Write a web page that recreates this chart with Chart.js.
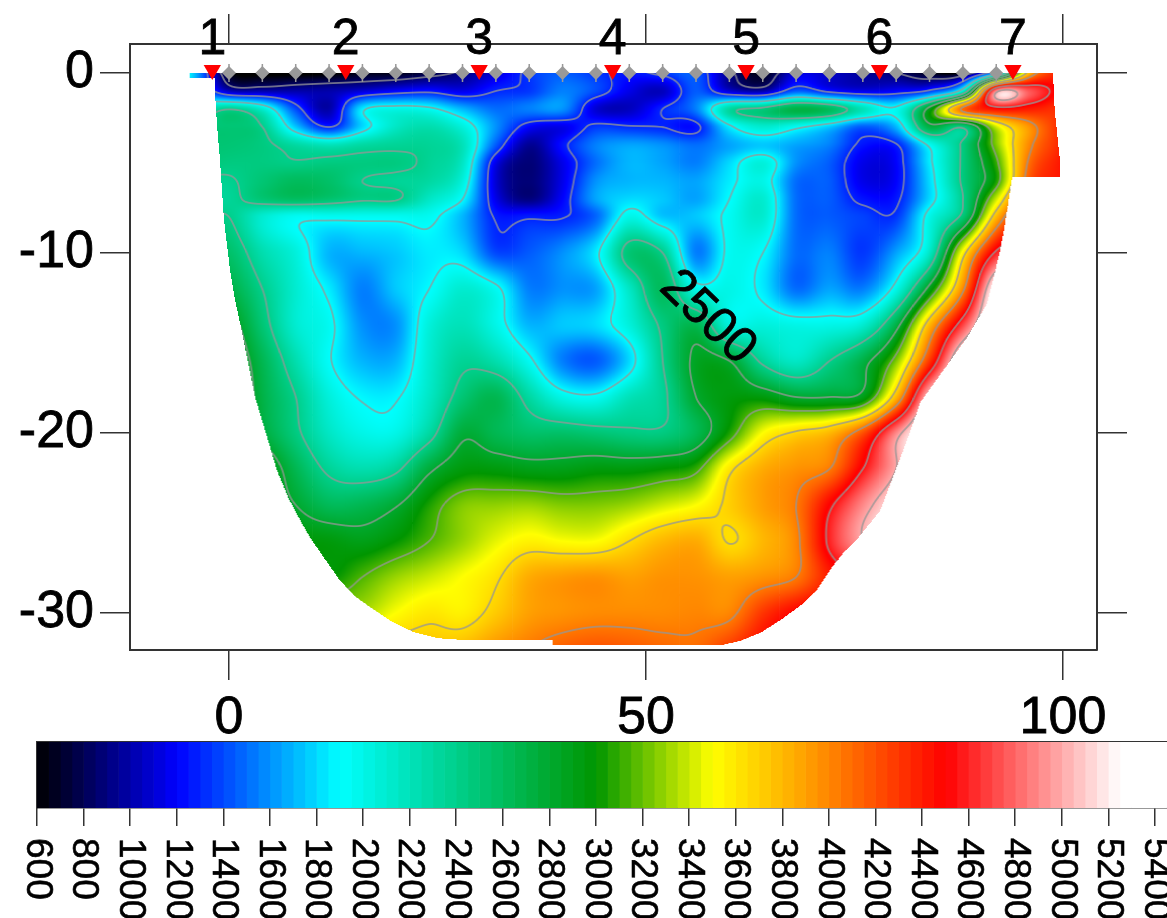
<!DOCTYPE html>
<html>
<head>
<meta charset="UTF-8">
<title>Velocity section</title>
<script src="https://cdn.jsdelivr.net/npm/chart.js"></script>
<style>
  html, body { margin: 0; background: #fff; overflow: hidden; width: 1167px; height: 918px; }
  canvas { position: absolute; left: 0; }
  #section { top: 0; }
  #colorbar { top: 740px; }
</style>
</head>
<body>
<canvas id="section" width="1167" height="742"></canvas>
<canvas id="colorbar" width="1167" height="178"></canvas>
<script>
// grid: distance (m), depth (m), velocity (m/s) per row
const distances = [-4,0,4,8,12,16,20,24,28,32,36,40,44,48,52,56,60,64,68,72,76,80,84,88,92,96,100];
const depths = [0,-1,-2,-3,-4,-5,-6,-7,-8,-10,-12,-14,-16,-18,-20,-22,-24,-26,-28,-30,-32];

const row00 = [1700,650,550,550,580,650,650,750,900,1100,1350,1450,1350,1250,1350,1450,900,650,1100,1050,950,850,650,650,1700,3800,4500];
const row01 = [1700,1050,1000,1000,1000,1100,1200,1250,1150,1300,1350,1550,1400,1150,1050,1450,1100,1000,1450,1250,1150,1200,1350,2100,4900,4750,4400];
const row02 = [2100,2380,2100,1400,1000,1850,2000,1950,1700,1500,1550,1600,1100,1050,1300,1550,2300,2450,2700,2600,2200,1950,2900,4100,4450,4400,4300];
const row03 = [2450,2500,2400,1750,1300,1800,2150,2250,2050,1600,1200,1150,1350,1320,1300,1250,1850,2100,1950,1750,1450,1700,2700,2450,3400,3950,4400];
const row04 = [2500,2500,2450,2300,2200,2300,2350,2350,2200,1450,950,1250,1550,1650,1600,1500,1650,1750,1650,1550,1250,1280,1950,2450,3250,4000,4400];
const row05 = [2500,2450,2450,2420,2450,2450,2450,2350,2150,1150,880,1150,1500,1700,1650,1550,1800,2050,1600,1450,1150,1200,1850,2450,3100,4100,4450];
const row06 = [2380,2380,2500,2600,2550,2400,2350,2300,2050,1100,880,1150,1600,1700,1700,1650,1850,2000,1500,1450,1150,1200,1800,2450,3050,4200,4450];
const row07 = [2350,2350,2500,2580,2520,2430,2420,2150,1900,1150,900,1200,1650,1800,1750,1650,1900,2100,1500,1450,1250,1260,1800,2400,3400,4400,4500];
const row08 = [2400,2400,2100,1950,1950,1950,1950,1950,1700,1280,1280,1290,1480,2000,1750,1750,1950,2100,1500,1450,1380,1350,2000,2500,3800,4600,4500];
const row10 = [2550,2550,2250,2050,1700,1700,1750,1850,1800,1400,1450,1600,1850,2500,2400,1550,1950,1900,1500,1550,1350,1650,2150,3550,4600,4800,4800];
const row12 = [2700,2700,2400,2100,1850,1550,1750,1900,2100,1950,1550,1600,1650,2150,2600,2000,2000,1850,1500,1650,1550,2000,2900,4000,5300,5300,5300];
const row14 = [2900,2900,2500,2100,1950,1600,1600,2050,2200,2000,1700,1750,1800,2050,2450,2650,2050,2050,2000,2000,2100,2700,3800,4700,5400,5400,5400];
const row16 = [3000,3000,2650,2250,1920,1700,1700,2100,2350,2250,1950,1550,1450,1800,2400,2850,2800,2350,2150,2400,2700,3250,4300,5300,5400,5400,5400];
const row18 = [3100,3100,2700,2400,2050,1880,1880,2150,2500,2650,2300,2000,1950,2200,2350,2800,2950,2950,2800,2800,2900,3800,5100,5400,5400,5400,5400];
const row20 = [3100,3100,2750,2450,2150,2000,2000,2300,2750,2650,2550,2550,2500,2450,2450,2650,3050,3500,3680,3800,4200,4900,5400,5400,5400,5400,5400];
const row22 = [3200,3200,3000,2650,2350,2250,2350,2750,2950,2950,2900,2900,2950,2950,3000,3100,3600,3850,3950,4050,4550,5000,5400,5400,5400,5400,5400];
const row24 = [3300,3300,3000,2800,2620,2650,2780,3050,3250,3280,3300,3250,3250,3300,3400,3500,3700,3900,4050,4500,4900,5200,5400,5400,5400,5400,5400];
const row26 = [3300,3300,3200,3000,2950,2900,3000,3150,3300,3450,3550,3500,3500,3650,3800,3850,3640,3800,4000,4600,5000,5300,5400,5400,5400,5400,5400];
const row28 = [3400,3400,3300,3100,3000,3150,3300,3400,3500,3620,3850,3920,3950,3900,3950,3950,3900,3950,4050,4400,4600,4800,5000,5000,5000,5000,5000];
const row30 = [3500,3500,3500,3400,3350,3350,3500,3600,3560,3720,3900,3950,3980,3980,3980,4000,4000,4300,4500,4600,4700,5000,5000,5000,5000,5000,5000];
const row32 = [3700,3700,3700,3700,3700,3700,3750,3750,3800,3950,4050,4150,4200,4170,4120,4100,4300,4500,4600,4600,4600,4600,4600,4600,4600,4600,4600];
const velocity = [row00,row01,row02,row03,row04,row05,row06,row07,row08,row10,row12,row14,row16,row18,row20,row22,row24,row26,row28,row30,row32];

// outline of the covered part of the section
const outlineX = [-4.7,-4.7,-1.7,-1.68,-1.44,-1.08,-0.6,0.12,0.72,1.56,3.12,4.68,5.7,7.1,8.6,9.7,11.5,13.3,15.2,17.3,19.6,22.1,25,28.1,38.8,38.8,58.9,61.3,63.7,66.1,68.5,70.5,72.4,73.6,75.3,78.1,81.3,82.9,84.9,88.5,90.9,91.6,92.4,93,93.9,99.6,99.6,99,98.8];
const outlineY = [0,-0.3,-0.3,-1.1,-2.9,-4.83,-8.17,-10.94,-12.6,-14.4,-18,-20.4,-22,-23.6,-24.9,-25.8,-27,-28.2,-29.1,-29.8,-30.5,-31.05,-31.4,-31.5,-31.5,-31.8,-31.8,-31.55,-31.1,-30.4,-29.6,-28.7,-27.4,-26.7,-25.9,-24.3,-20.4,-18.3,-17,-14.7,-12.8,-11.5,-10,-8.5,-5.8,-5.8,-4.7,-2.05,0];

const contourLevels = [850,1300,1900,2400,2800,3150,3650,4050,4550,5000];

// geophones and shots
const geophoneX = [0,4,8,12,16,20,24,28,32,36,40,44,48,52,56,60,64,68,72,76,80,84,88,92];
const shotX = [-2,14,30,46,62,78,94];
const shotNames = ['1','2','3','4','5','6','7'];

const xTicks = [0,50,100];
const yTicks = [-30,-20,-10,0];
const barTicks = [600,800,1000,1200,1400,1600,1800,2000,2200,2400,2600,2800,3000,3200,3400,3600,3800,4000,4200,4400,4600,4800,5000,5200,5400];

const paletteValues = [600,1200,1900,3000,3500,3900,4500,5250];
const paletteColors = [[0,0,0],[0,0,255],[0,255,255],[0,150,0],[255,255,0],[255,160,0],[255,0,0],[255,255,255]];

const FONT = '"Liberation Sans", Arial, sans-serif';
const LINE = '#333333';

function colorAt(v) {
    if (v <= paletteValues[0]) return paletteColors[0];
    for (let i = 1; i < paletteValues.length; i++) {
        if (v <= paletteValues[i]) {
            const t = (v - paletteValues[i-1]) / (paletteValues[i] - paletteValues[i-1]);
            return paletteColors[i].map((c, k) => paletteColors[i-1][k] + (c - paletteColors[i-1][k]) * t);
        }
    }
    return paletteColors[paletteColors.length - 1];
}

// smooth shading between the read values, like the contouring package does
function slope(xs, vs, i) {
    const a = Math.max(i - 1, 0), b = Math.min(i + 1, xs.length - 1);
    return (vs[b] - vs[a]) / (xs[b] - xs[a]);
}

function hermite(xs, vs, i, x) {
    const h = xs[i+1] - xs[i], t = (x - xs[i]) / h;
    const t2 = t * t, t3 = t2 * t;
    return (2*t3 - 3*t2 + 1) * vs[i] + (t3 - 2*t2 + t) * h * slope(xs, vs, i)
        + (-2*t3 + 3*t2) * vs[i+1] + (t3 - t2) * h * slope(xs, vs, i+1);
}

function cellIndex(xs, x) {
    let i = 0;
    while (i < xs.length - 2 && x > xs[i+1]) i++;
    return i;
}

const depthAxis = depths.map(d => -d);
const colBuffer = depths.map(() => 0);
function velocityAt(x, y) {
    const cx = cellIndex(distances, x), cy = cellIndex(depthAxis, -y);
    for (let j = Math.max(cy - 1, 0); j <= Math.min(cy + 2, depths.length - 1); j++) {
        colBuffer[j] = hermite(distances, velocity[j], cx, x);
    }
    return hermite(depthAxis, colBuffer, cy, -y);
}

function insideOutline(x, y) {
    let inside = false;
    for (let i = 0, j = outlineX.length - 1; i < outlineX.length; j = i++) {
        if ((outlineY[i] > y) !== (outlineY[j] > y)
            && x < (outlineX[j] - outlineX[i]) * (y - outlineY[i]) / (outlineY[j] - outlineY[i]) + outlineX[i]) {
            inside = !inside;
        }
    }
    return inside;
}

// every grid node is one scatter point; its point style is the little image of its own cell
const cellImages = {};
function cellImage(node, chart) {
    if (cellImages[node.key]) return cellImages[node.key];
    const sx = chart.scales.x, sy = chart.scales.y;
    const ux = sx.getPixelForValue(1) - sx.getPixelForValue(0);
    const uy = sy.getPixelForValue(0) - sy.getPixelForValue(1);
    // the library asks for the options once before the layout is done
    if (!(ux > 0) || !(uy > 0)) return 'circle';
    const i = node.col, j = node.row;
    const gapL = (i > 0 ? distances[i] - distances[i-1] : 4) / 2 * ux + 0.75;
    const gapR = (i < distances.length - 1 ? distances[i+1] - distances[i] : 4) / 2 * ux + 0.75;
    const gapU = (j > 0 ? depths[j-1] - depths[j] : 2) / 2 * uy + 0.75;
    const gapD = (j < depths.length - 1 ? depths[j] - depths[j+1] : 2) / 2 * uy + 0.75;
    const w = 2 * Math.ceil(Math.max(gapL, gapR)), h = 2 * Math.ceil(Math.max(gapU, gapD));
    const c = document.createElement('canvas');
    c.width = w; c.height = h;
    const ctx = c.getContext('2d');
    const img = ctx.createImageData(w, h);
    for (let py = 0; py < h; py++) {
        const oy = py + 0.5 - h / 2;
        if (oy < -gapU || oy > gapD) continue;
        for (let px = 0; px < w; px++) {
            const ox = px + 0.5 - w / 2;
            if (ox < -gapL || ox > gapR) continue;
            const x = node.x + ox / ux, y = node.y - oy / uy;
            if (!insideOutline(x, y)) continue;
            const v = velocityAt(x, y);
            const gx = (velocityAt(x + 1 / ux, y) - velocityAt(x - 1 / ux, y)) / 2;
            const gy = (velocityAt(x, y + 1 / uy) - velocityAt(x, y - 1 / uy)) / 2;
            const g = Math.hypot(gx, gy) || 1e-6;
            let rgb = colorAt(v);
            let a = 0;
            for (const lv of contourLevels) a = Math.max(a, 1.4 - Math.abs(v - lv) / g);
            a = Math.min(Math.max(a, 0), 1) * 0.75;
            const k = (py * w + px) * 4;
            img.data[k] = rgb[0] + (150 - rgb[0]) * a;
            img.data[k+1] = rgb[1] + (150 - rgb[1]) * a;
            img.data[k+2] = rgb[2] + (150 - rgb[2]) * a;
            img.data[k+3] = 255;
        }
    }
    ctx.putImageData(img, 0, 0);
    cellImages[node.key] = c;
    return c;
}

const nodes = [];
depths.forEach((y, row) => distances.forEach((x, col) => {
    nodes.push({ x: x, y: y, v: velocity[row][col], col: col, row: row, key: row + '_' + col });
}));

function fixedTicks(list) {
    return function (scale) { scale.ticks = list.map(v => ({ value: v })); };
}

function axisGrid() {
    return { display: true, drawOnChartArea: false, drawTicks: true, tickLength: 30, color: LINE, lineWidth: 1.5 };
}

function heavyText(ctx, text, x, y) {
    ctx.fillText(text, x, y);
    ctx.strokeText(text, x, y);
}

const textPlugin = {
    id: 'sectionText',
    afterDraw(chart) {
        const ctx = chart.ctx, sx = chart.scales.x, sy = chart.scales.y;
        ctx.save();
        ctx.fillStyle = '#000';
        ctx.strokeStyle = '#000';
        ctx.lineWidth = 0.8;
        ctx.font = '50px ' + FONT;
        ctx.textAlign = 'center';
        ctx.textBaseline = 'alphabetic';
        shotX.forEach((x, i) => heavyText(ctx, shotNames[i], sx.getPixelForValue(x), 54));
        ctx.translate(sx.getPixelForValue(57.4), sy.getPixelForValue(-13.6));
        ctx.rotate(44 * Math.PI / 180);
        ctx.textBaseline = 'middle';
        heavyText(ctx, '2500', 0, 0);
        ctx.restore();
    }
};

new Chart(document.getElementById('section'), {
    type: 'scatter',
    data: {
        datasets: [
            { label: 'shots', order: 1, data: shotX.map(x => ({ x: x, y: 0.17 })), pointStyle: 'triangle', rotation: 180, pointRadius: 10, pointBackgroundColor: '#ff0000', pointBorderWidth: 0 },
            { label: 'geophones', order: 2, data: geophoneX.map(x => ({ x: x, y: 0 })), pointStyle: 'rectRot', pointRadius: 7, pointBackgroundColor: '#999999', pointBorderWidth: 0 },
            { label: 'geophone pins', order: 3, data: geophoneX.map(x => ({ x: x, y: 0 })), pointStyle: 'line', rotation: 90, pointRadius: 9, pointBorderColor: '#999999', pointBorderWidth: 1.5 },
            { label: 'velocity', order: 4, data: nodes, pointRadius: 1, pointStyle: ctx => cellImage(ctx.raw, ctx.chart) }
        ]
    },
    options: {
        responsive: false,
        animation: false,
        events: [],
        plugins: { legend: { display: false }, tooltip: { enabled: false } },
        scales: {
            x: {
                type: 'linear', position: 'bottom', min: -11.87, max: 104.08,
                afterBuildTicks: fixedTicks(xTicks), afterFit: s => { s.height = 92; },
                grid: axisGrid(), border: { display: true, color: LINE, width: 2 },
                ticks: { color: '#000', font: { family: FONT, size: 52 }, padding: 7, maxRotation: 0, minRotation: 0, autoSkip: false, textStrokeColor: '#000', textStrokeWidth: 0.8, callback: v => String(v) }
            },
            xTop: {
                type: 'linear', position: 'top', display: true, min: -11.87, max: 104.08,
                afterBuildTicks: fixedTicks(xTicks), afterFit: s => { s.height = 44; },
                grid: axisGrid(), border: { display: true, color: LINE, width: 2 },
                ticks: { display: false }
            },
            y: {
                type: 'linear', position: 'left', min: -32.056, max: 1.611,
                afterBuildTicks: fixedTicks(yTicks), afterFit: s => { s.width = 130; },
                grid: axisGrid(), border: { display: true, color: LINE, width: 2 },
                ticks: { color: '#000', font: { family: FONT, size: 52 }, padding: 6, autoSkip: false, textStrokeColor: '#000', textStrokeWidth: 0.8, callback: v => String(v) }
            },
            yRight: {
                type: 'linear', position: 'right', display: true, min: -32.056, max: 1.611,
                afterBuildTicks: fixedTicks(yTicks), afterFit: s => { s.width = 70; },
                grid: axisGrid(), border: { display: true, color: LINE, width: 2 },
                ticks: { display: false }
            }
        }
    },
    plugins: [textPlugin]
});

// colour bar: one floating bar per 50 m/s step
const barStarts = [];
for (let v = 600; v < 5500; v += 50) barStarts.push(v);

const barTextPlugin = {
    id: 'barText',
    afterDraw(chart) {
        const ctx = chart.ctx, sx = chart.scales.x;
        ctx.save();
        ctx.fillStyle = '#000';
        ctx.strokeStyle = '#000';
        ctx.lineWidth = 0.6;
        ctx.font = '37px ' + FONT;
        ctx.textAlign = 'left';
        ctx.textBaseline = 'middle';
        barTicks.forEach(v => {
            ctx.save();
            ctx.translate(sx.getPixelForValue(v), chart.chartArea.bottom + 30);
            ctx.rotate(Math.PI / 2);
            heavyText(ctx, String(v), 0, 0);
            ctx.restore();
        });
        ctx.restore();
    }
};

new Chart(document.getElementById('colorbar'), {
    type: 'bar',
    data: {
        labels: ['v'],
        datasets: barStarts.map(v => ({
            data: [[v, v + 50]],
            backgroundColor: 'rgb(' + colorAt(v + 25).map(Math.round).join(',') + ')',
            borderWidth: 0, barPercentage: 1, categoryPercentage: 1, grouped: false
        }))
    },
    options: {
        indexAxis: 'y',
        responsive: false,
        animation: false,
        events: [],
        plugins: { legend: { display: false }, tooltip: { enabled: false } },
        scales: {
            x: {
                type: 'linear', position: 'bottom', min: 600, max: 5452,
                afterBuildTicks: fixedTicks(barTicks), afterFit: s => { s.height = 110; },
                grid: { display: true, drawOnChartArea: false, tickLength: 18, color: LINE, lineWidth: 1.5 },
                border: { display: true, color: LINE, width: 1.5 },
                ticks: { display: false }
            },
            xTop: {
                type: 'linear', position: 'top', display: true, min: 600, max: 5452,
                afterFit: s => { s.height = 2; },
                grid: { display: false }, border: { display: true, color: LINE, width: 1.5 },
                ticks: { display: false }
            },
            y: {
                position: 'left',
                afterFit: s => { s.width = 37; },
                grid: { display: false }, border: { display: true, color: LINE, width: 1.5 },
                ticks: { display: false }
            }
        }
    },
    plugins: [barTextPlugin]
});
</script>
</body>
</html>
